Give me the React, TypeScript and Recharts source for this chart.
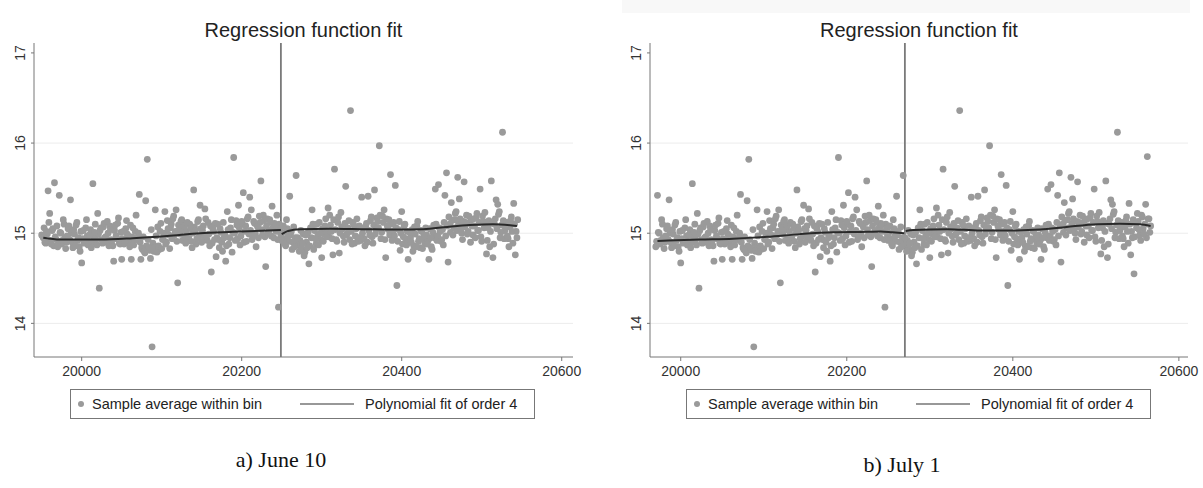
import React from 'react';
import { ScatterChart, Scatter, XAxis, YAxis, CartesianGrid, ReferenceLine } from 'recharts';

// daily bins starting at day 19950; kept as two lists (even days, odd days)
const FIRST_DAY = 19950;

// sample average within bin, even days 19950, 19952, ... (10 bins = 20 days per row)
const evenDayAverages = [
  14.98, 14.95, 14.90, 15.02, 15.47, 15.22, 14.88, 15.05, 15.56, 14.93, // 19950
  14.85, 15.42, 15.00, 14.92, 15.10, 14.83, 14.97, 15.08, 15.37, 14.90, // 19970
  15.04, 14.86, 15.12, 14.95, 14.80, 14.67, 15.03, 14.91, 15.15, 14.87, // 19990
  14.98, 14.84, 15.55, 15.01, 14.93, 15.22, 14.39, 15.06, 14.89, 15.11, // 20010
  14.96, 15.13, 14.86, 15.04, 14.92, 14.69, 15.09, 14.94, 15.17, 14.88, // 20030
  14.71, 15.02, 14.90, 15.14, 14.97, 14.85, 14.71, 15.06, 14.93, 15.20, // 20050
  14.95, 15.43, 14.71, 14.82, 14.80, 15.36, 15.82, 14.84, 14.72, 13.74, // 20070
  14.80, 15.26, 14.79, 14.86, 15.02, 14.83, 14.95, 15.24, 14.90, 15.05, // 20090
  14.83, 15.10, 15.16, 14.98, 15.26, 14.45, 15.04, 15.13, 14.92, 15.08, // 20110
  14.89, 15.12, 14.97, 15.06, 14.84, 15.48, 15.03, 14.94, 15.15, 15.31, // 20130
  14.90, 15.08, 15.27, 14.97, 15.12, 14.86, 14.57, 15.05, 14.93, 14.74, // 20150
  15.10, 14.84, 15.01, 14.80, 14.95, 14.69, 15.24, 14.88, 15.06, 14.79, // 20170
  15.84, 14.92, 15.09, 15.31, 14.87, 15.13, 15.45, 15.02, 14.91, 15.18, // 20190
  15.40, 15.26, 14.96, 15.11, 14.85, 15.07, 15.19, 15.58, 14.98, 15.14, // 20210
  14.63, 15.16, 15.03, 15.12, 15.30, 14.95, 15.09, 15.20, 14.18, 15.05, // 20230
  14.92, 15.08, 14.88, 15.15, 14.97, 15.41, 15.02, 14.90, 14.85, 15.64, // 20250
  14.95, 14.80, 15.03, 14.89, 14.75, 14.98, 14.84, 14.66, 15.06, 15.26, // 20270
  14.82, 14.94, 15.10, 14.87, 15.00, 14.73, 14.91, 15.08, 14.96, 15.28, // 20290
  15.20, 15.02, 14.76, 15.71, 14.93, 15.12, 14.78, 15.23, 15.05, 14.90, // 20310
  15.52, 15.00, 15.14, 16.36, 14.88, 15.09, 14.97, 15.16, 14.91, 14.95, // 20330
  15.40, 15.06, 14.86, 15.11, 15.41, 14.98, 15.18, 14.89, 15.48, 15.04, // 20350
  15.13, 15.97, 14.94, 15.19, 15.26, 14.73, 15.08, 15.15, 15.65, 14.92, // 20370
  15.12, 15.53, 14.42, 15.04, 14.81, 15.24, 14.96, 15.10, 14.87, 14.71, // 20390
  15.01, 14.90, 14.80, 15.07, 14.85, 15.13, 14.94, 15.03, 14.83, 14.97, // 20410
  15.06, 14.88, 14.71, 14.95, 14.82, 15.09, 15.49, 14.92, 15.54, 15.02, // 20430
  14.93, 14.87, 15.42, 15.67, 14.68, 15.10, 15.34, 14.98, 15.15, 15.24, // 20450
  15.62, 15.38, 15.05, 14.93, 15.57, 15.12, 14.99, 15.19, 14.90, 15.08, // 20470
  15.16, 14.95, 15.22, 15.03, 15.49, 14.91, 15.13, 15.23, 14.77, 15.06, // 20490
  14.85, 15.58, 14.73, 15.10, 15.37, 15.32, 15.24, 15.01, 16.12, 14.94, // 20510
  15.08, 14.97, 14.85, 15.14, 15.02, 15.33, 14.76, 14.95, 14.55, 15.11, // 20530
  15.22, 15.04, 14.92, 15.18, 14.99, 15.32, 15.85, 15.16, 15.08, // 20550
];

// sample average within bin, odd days 19951, 19953, ...
const oddDayAverages = [
  14.97, 15.06, 14.89, 14.99, 15.12, 14.92, 15.03, 14.86, 14.96, 15.08, // 19951
  14.91, 15.01, 14.88, 15.15, 14.95, 14.90, 15.05, 14.93, 15.00, 14.84, // 19971
  14.99, 15.09, 14.92, 14.85, 15.02, 14.94, 14.89, 15.06, 14.97, 14.91, // 19991
  15.04, 14.90, 14.96, 15.10, 14.87, 14.99, 15.03, 14.93, 15.07, 14.95, // 20011
  14.90, 15.00, 15.08, 14.93, 14.86, 15.03, 14.97, 15.11, 14.89, 15.01, // 20031
  14.94, 14.88, 15.05, 14.99, 14.91, 15.09, 14.96, 14.87, 15.02, 14.93, // 20051
  15.00, 14.90, 14.84, 14.96, 14.78, 14.86, 14.93, 14.81, 15.04, 14.89, // 20071
  14.84, 14.97, 15.07, 14.82, 15.11, 14.93, 15.00, 14.88, 15.14, 14.98, // 20091
  15.06, 14.94, 15.19, 15.02, 14.91, 15.09, 14.99, 15.15, 15.04, 14.95, // 20111
  15.02, 14.95, 15.10, 14.91, 15.00, 15.07, 14.88, 15.13, 14.97, 15.05, // 20131
  15.03, 14.96, 15.16, 14.92, 14.99, 15.08, 14.89, 15.02, 15.11, 14.95, // 20151
  14.93, 15.05, 14.90, 15.12, 14.98, 14.86, 15.04, 14.95, 15.15, 15.01, // 20171
  15.00, 15.14, 14.94, 15.06, 14.97, 15.10, 14.90, 15.08, 15.16, 14.99, // 20191
  15.03, 14.93, 15.13, 15.00, 15.09, 14.95, 15.12, 15.04, 15.20, 14.96, // 20211
  15.08, 15.00, 15.15, 14.97, 15.06, 15.11, 15.02, 14.93, 15.10, 14.98, // 20231
  15.01, 14.94, 14.86, 15.05, 14.91, 14.98, 14.82, 15.07, 14.95, 14.89, // 20251
  14.87, 14.92, 14.83, 14.99, 14.79, 14.90, 15.01, 14.86, 14.95, 15.10, // 20271
  15.03, 14.88, 14.97, 15.12, 14.93, 15.05, 14.99, 15.16, 15.02, 14.96, // 20291
  15.09, 14.94, 15.15, 15.04, 14.91, 15.18, 15.00, 15.07, 14.97, 15.11, // 20311
  14.98, 15.06, 14.93, 15.02, 15.12, 14.89, 15.05, 14.95, 15.08, 14.92, // 20331
  15.00, 14.94, 15.07, 14.90, 15.03, 15.14, 14.96, 15.09, 14.99, 15.17, // 20351
  15.06, 15.20, 15.01, 15.12, 14.93, 15.16, 15.04, 14.98, 15.10, 15.02, // 20371
  14.97, 15.06, 14.91, 15.13, 15.00, 14.88, 15.08, 14.94, 15.02, 14.90, // 20391
  14.95, 15.04, 14.86, 14.99, 15.08, 14.91, 14.84, 15.02, 14.93, 14.89, // 20411
  14.98, 14.92, 15.05, 14.85, 15.01, 14.95, 15.10, 14.97, 15.06, 14.91, // 20431
  15.04, 15.12, 14.97, 15.08, 15.18, 15.01, 15.14, 15.06, 15.22, 15.03, // 20451
  15.10, 15.16, 15.00, 15.13, 15.07, 15.20, 15.02, 15.11, 15.15, 14.98, // 20471
  15.08, 15.17, 15.03, 15.12, 14.96, 15.19, 15.06, 15.10, 14.92, 15.14, // 20491
  15.02, 15.11, 14.88, 15.16, 15.05, 15.21, 14.95, 15.09, 15.14, 15.03, // 20511
  15.12, 14.94, 15.07, 15.18, 14.89, 15.10, 15.02, 15.15, 14.96, 15.06, // 20531
  15.13, 14.98, 15.20, 15.05, 15.10, 14.95, 15.16, 15.01, 15.09, // 20551
];

const xTicks = [20000, 20200, 20400, 20600];
const yTicks = [14, 15, 16, 17];
const yDomain: [number, number] = [13.627, 17.11];

// a) June 10
const juneCutoff = 20249;
const juneWindow = [19950, 20545];
const juneFitBeforeX = [19952, 19973, 20023, 20064, 20107, 20148, 20189, 20249];
const juneFitBeforeY = [14.95, 14.93, 14.93, 14.945, 14.97, 15.0, 15.015, 15.035];
const juneFitAfterX = [20250, 20258, 20273, 20310, 20352, 20394, 20427, 20457, 20485, 20514, 20544];
const juneFitAfterY = [14.99, 15.025, 15.045, 15.05, 15.045, 15.04, 15.045, 15.07, 15.09, 15.1, 15.08];

// b) July 1
const julyCutoff = 20270;
const julyWindow = [19970, 20566];
const julyFitBeforeX = [19972, 20023, 20063, 20104, 20144, 20184, 20225, 20241, 20255, 20269];
const julyFitBeforeY = [14.915, 14.93, 14.94, 14.96, 14.99, 15.01, 15.015, 15.02, 15.01, 15.0];
const julyFitAfterX = [20271, 20280, 20321, 20361, 20400, 20433, 20465, 20502, 20529, 20553, 20566];
const julyFitAfterY = [15.025, 15.035, 15.045, 15.03, 15.03, 15.04, 15.07, 15.1, 15.105, 15.1, 15.08];

const FONT = '"Liberation Sans", Arial, Helvetica, sans-serif';

const bins = [
  ...oddDayAverages.map((y, i) => ({ x: FIRST_DAY + 1 + i * 2, y })),
  ...evenDayAverages.map((y, i) => ({ x: FIRST_DAY + i * 2, y })),
];
const zip = (xs: number[], ys: number[]) => xs.map((x, i) => ({ x, y: ys[i] }));

const YTick = (props: any) => {
  const { x, y, payload } = props;
  return (
    <text
      x={x}
      y={y}
      transform={`rotate(-90 ${x} ${y})`}
      textAnchor="middle"
      fontSize={14}
      fill="#333"
      fontFamily={FONT}
    >
      {payload.value}
    </text>
  );
};

interface PanelProps {
  left: number;
  width: number;
  marginRight: number;
  domain: [number, number];
  cutoff: number;
  window: number[];
  fitBefore: { x: number; y: number }[];
  fitAfter: { x: number; y: number }[];
  plotLeft: number;
  plotRight: number;
  legendLeft: number;
  caption: string;
  captionX: number;
  captionTop: number;
}

const Panel: React.FC<PanelProps> = (p) => {
  const points = bins.filter(b => b.x >= p.window[0] && b.x <= p.window[1]);
  const plotCenter = (p.plotLeft + p.plotRight) / 2;
  return (
    <>
      <div style={{ position: 'absolute', left: p.left, top: 0 }}>
        <ScatterChart width={p.width} height={380} margin={{ top: 43, right: p.marginRight, bottom: 0, left: 0 }}>
          <CartesianGrid vertical={false} horizontalValues={[14, 15, 16]} stroke="#ececec" />
          <XAxis
            type="number"
            dataKey="x"
            domain={p.domain}
            ticks={xTicks}
            allowDataOverflow
            height={23}
            tickSize={4}
            tickMargin={5}
            stroke="#777"
            tick={{ fill: '#333', fontSize: 14, fontFamily: FONT }}
          />
          <YAxis
            type="number"
            dataKey="y"
            domain={yDomain}
            ticks={yTicks}
            allowDataOverflow
            width={34}
            tickSize={3}
            tickMargin={6}
            stroke="#777"
            tick={<YTick />}
          />
          <ReferenceLine x={p.cutoff} stroke="#7a7a7a" strokeWidth={1.8} />
          <Scatter
            data={points}
            isAnimationActive={false}
            shape={(s: any) => <circle cx={s.cx} cy={s.cy} r={3.4} fill="#9a9a9a" />}
          />
          <Scatter
            data={p.fitBefore}
            isAnimationActive={false}
            line={{ stroke: '#2a2a2a', strokeWidth: 2 }}
            lineJointType="monotoneX"
            shape={() => <g />}
          />
          <Scatter
            data={p.fitAfter}
            isAnimationActive={false}
            line={{ stroke: '#2a2a2a', strokeWidth: 2 }}
            lineJointType="monotoneX"
            shape={() => <g />}
          />
        </ScatterChart>
      </div>
      <div
        style={{
          position: 'absolute', left: plotCenter - 150, width: 300, top: 20, textAlign: 'center',
          fontFamily: FONT, fontSize: 20, lineHeight: '20px', color: '#222',
        }}
      >
        Regression function fit
      </div>
      <div
        style={{
          position: 'absolute', left: p.legendLeft, top: 389, width: 465, height: 30, boxSizing: 'border-box',
          border: '1px solid #777', fontFamily: FONT, fontSize: 14.5, color: '#222',
        }}
      >
        <svg width={465} height={30} style={{ position: 'absolute', left: -1, top: -1 }}>
          <circle cx={11} cy={15} r={3} fill="#9a9a9a" />
          <line x1={230} x2={284} y1={15} y2={15} stroke="#333" strokeWidth={1.2} />
        </svg>
        <span style={{ position: 'absolute', left: 21, top: 6, lineHeight: '17px' }}>Sample average within bin</span>
        <span style={{ position: 'absolute', left: 294, top: 6, lineHeight: '17px' }}>Polynomial fit of order 4</span>
      </div>
      <div
        style={{
          position: 'absolute', left: p.captionX - 100, width: 200, top: p.captionTop, textAlign: 'center',
          fontFamily: '"Liberation Serif", "Times New Roman", serif', fontSize: 22, lineHeight: '22px', color: '#111',
        }}
      >
        {p.caption}
      </div>
    </>
  );
};

export default function App() {
  return (
    <div style={{ position: 'absolute', left: 0, top: 0, width: 1203, height: 488, background: '#fff', overflow: 'hidden' }}>
      <div style={{ position: 'absolute', left: 622, top: 0, width: 568, height: 13, background: '#f8f8f8' }} />
      <Panel
        left={0}
        width={600}
        marginRight={27}
        domain={[19940.4, 20614.1]}
        cutoff={juneCutoff}
        window={juneWindow}
        fitBefore={zip(juneFitBeforeX, juneFitBeforeY)}
        fitAfter={zip(juneFitAfterX, juneFitAfterY)}
        plotLeft={34}
        plotRight={573}
        legendLeft={70}
        caption="a) June 10"
        captionX={281}
        captionTop={449}
      />
      <Panel
        left={616}
        width={587}
        marginRight={15}
        domain={[19963, 20611]}
        cutoff={julyCutoff}
        window={julyWindow}
        fitBefore={zip(julyFitBeforeX, julyFitBeforeY)}
        fitAfter={zip(julyFitAfterX, julyFitAfterY)}
        plotLeft={650}
        plotRight={1188}
        legendLeft={686}
        caption="b) July 1"
        captionX={902}
        captionTop={454}
      />
    </div>
  );
}
